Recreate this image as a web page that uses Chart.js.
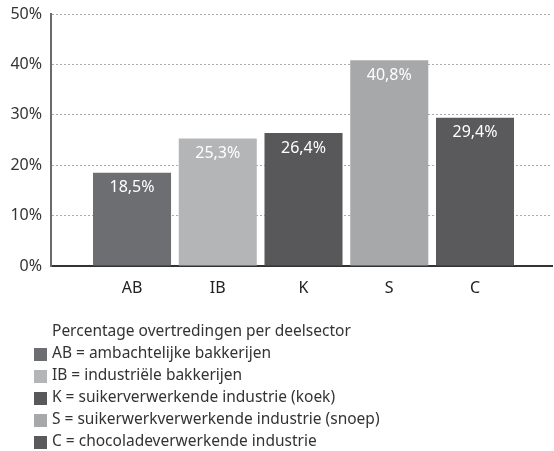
<!DOCTYPE html>
<html>
<head>
<meta charset="utf-8">
<script src="https://cdn.jsdelivr.net/npm/chart.js@4/dist/chart.umd.min.js"></script>
<style>
    html, body { margin: 0; padding: 0; background: #fff; }
    #wrap { width: 554px; height: 451px; }
</style>
</head>
<body>
<div id="wrap"><canvas id="chart" width="554" height="451"></canvas></div>
<script>
const categories = ['AB', 'IB', 'K', 'S', 'C'];
const values = [18.5, 25.3, 26.4, 40.8, 29.4];
const barColors = ['#6d6e71', '#b4b5b7', '#58585a', '#a7a8aa', '#5a5a5c'];
const yTicks = [0, 10, 20, 30, 40, 50];
const legendTitle = 'Percentage overtredingen per deelsector';
const legendItems = [
    'AB = ambachtelijke bakkerijen',
    'IB = industriële bakkerijen',
    'K = suikerverwerkende industrie (koek)',
    'S = suikerwerkverwerkende industrie (snoep)',
    'C = chocoladeverwerkende industrie',
];

const FONT = '"Noto Sans", "Open Sans", sans-serif';

function formatPct(v) {
    return v.toFixed(1).replace('.', ',') + '%';
}

// white value label just under the top of every bar
const barLabels = {
    id: 'barLabels',
    afterDatasetsDraw(chart) {
        const ctx = chart.ctx;
        const meta = chart.getDatasetMeta(0);
        ctx.save();
        ctx.fillStyle = '#ffffff';
        ctx.font = '16px ' + FONT;
        ctx.textAlign = 'center';
        ctx.textBaseline = 'middle';
        meta.data.forEach((bar, i) => {
            ctx.fillText(formatPct(values[i]), bar.x, bar.y + 15);
        });
        ctx.restore();
    }
};

// legend below the chart, one line per sector
const sectorLegend = {
    id: 'sectorLegend',
    afterDraw(chart) {
        const ctx = chart.ctx;
        ctx.save();
        ctx.font = '15.5px ' + FONT;
        ctx.textBaseline = 'middle';
        ctx.fillStyle = '#333333';
        ctx.fillText(legendTitle, 52, 332);
        legendItems.forEach((text, i) => {
            let y = 354 + i * 22;
            ctx.fillStyle = barColors[i];
            ctx.fillRect(34, y - 6, 13, 13);
            ctx.fillStyle = '#333333';
            ctx.fillText(text, 52, y);
        });
        ctx.restore();
    }
};

new Chart(document.getElementById('chart'), {
    type: 'bar',
    data: {
        datasets: [{
            data: values.map((v, i) => ({x: i, y: v})),
            backgroundColor: barColors,
            borderWidth: 0,
            barPercentage: 0.91,
            categoryPercentage: 1,
        }]
    },
    options: {
        responsive: false,
        animation: false,
        events: [],
        layout: {
            padding: {top: 14, right: 2, bottom: 153, left: 0}
        },
        plugins: {
            legend: {display: false},
            tooltip: {enabled: false},
        },
        scales: {
            x: {
                type: 'linear',
                offset: false,
                min: -0.945,
                max: 4.898,
                afterBuildTicks: scale => {
                    scale.ticks = categories.map((c, i) => ({value: i}));
                },
                afterFit: scale => {
                    scale.height = 32;
                    scale.paddingLeft = 0;
                    scale.paddingRight = 0;
                },
                ticks: {
                    callback: v => categories[v],
                    color: '#222222',
                    font: {family: FONT, size: 16},
                    padding: 5,
                    maxRotation: 0,
                },
                grid: {display: false, offset: false},
                border: {display: true, color: '#333333', width: 2},
            },
            y: {
                min: 0,
                max: 50,
                afterBuildTicks: scale => {
                    scale.ticks = yTicks.map(v => ({value: v}));
                },
                afterFit: scale => {
                    scale.width = 51;
                    scale.paddingTop = 0;
                    scale.paddingBottom = 0;
                },
                ticks: {
                    callback: v => v + '%',
                    color: '#333333',
                    font: {family: FONT, size: 16},
                    padding: 9,
                },
                grid: {
                    color: '#aaaaaa',
                    lineWidth: 1,
                    drawTicks: false,
                },
                border: {display: true, color: '#6a6a6a', width: 2, dash: [2, 2]},
            }
        }
    },
    plugins: [barLabels, sectorLegend]
});
</script>
</body>
</html>
